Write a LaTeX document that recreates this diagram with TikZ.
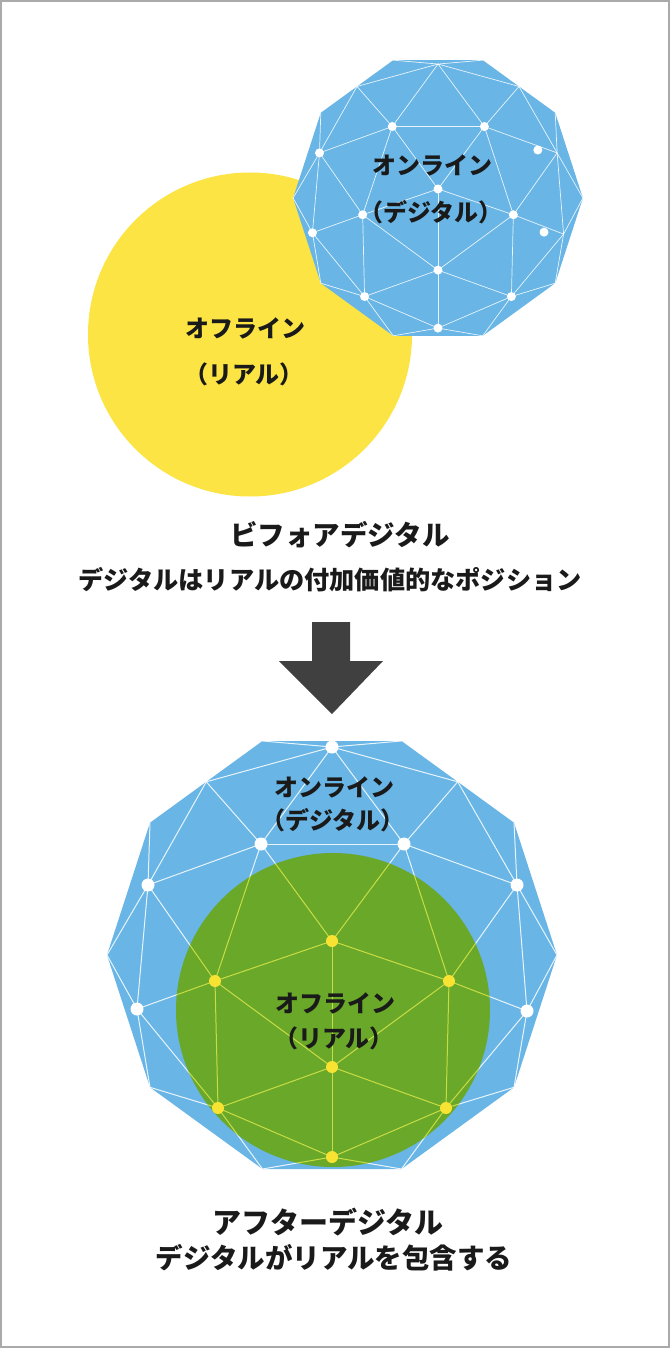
\documentclass[tikz,border=0pt]{standalone}
\usepackage{fontspec}
\newfontfamily\jp{Noto Sans CJK JP}
\definecolor{skyb}{HTML}{68B5E6}
\definecolor{leaf}{HTML}{6AA82A}
\definecolor{sun}{HTML}{FBE444}
\definecolor{dotyel}{HTML}{F8E332}
\definecolor{meshyel}{HTML}{C8DC44}
\definecolor{arrowgray}{HTML}{404040}
\definecolor{framegray}{HTML}{AAAAAA}
\definecolor{ink}{HTML}{1A1A1A}

\newcommand{\meshcoords}[1]{%
  \coordinate (#1P0) at (225,0);
  \coordinate (#1P36) at (182,-132.3);
  \coordinate (#1P72) at (69.5,-214);
  \coordinate (#1P108) at (-69.5,-214);
  \coordinate (#1P144) at (-182,-132.3);
  \coordinate (#1P180) at (-225,0);
  \coordinate (#1P216) at (-182,132.3);
  \coordinate (#1P252) at (-69.5,214);
  \coordinate (#1P288) at (69.5,214);
  \coordinate (#1P324) at (182,132.3);
  \coordinate (#1W0) at (0,-208);
  \coordinate (#1E1) at (-125.75,-173.2);
  \coordinate (#1E2) at (125.75,-173.2);
  \coordinate (#1W1) at (-71,-111);
  \coordinate (#1W3) at (72,-111);
  \coordinate (#1W2) at (-184,-70);
  \coordinate (#1W5) at (185,-70);
  \coordinate (#1W4) at (-195,54);
  \coordinate (#1W6) at (195,56);
  \coordinate (#1YT) at (0,-14);
  \coordinate (#1YUL) at (-117,26);
  \coordinate (#1YUR) at (117,26);
  \coordinate (#1YC) at (0,112);
  \coordinate (#1YLL) at (-114,153);
  \coordinate (#1YLR) at (114,153);
  \coordinate (#1YB) at (0,202);
}
\newcommand{\meshlines}[2]{%
  \foreach \u/\v in {W0/P108, W0/P72, W0/E1, W0/E2, W0/W1, W0/W3,
      E1/W1, E1/W2, E2/W3, E2/W5, P144/W2, P36/W5,
      W2/W1, W5/W3, W2/P180, W5/P0, W2/YUL, W5/YUR, W2/W4, W5/W6,
      W1/YUL, W3/YUR, W1/YT, W3/YT, W1/W3,
      W4/P180, W6/P0, W4/YUL, W6/YUR, W4/P216, W6/P324, W4/YLL, W6/YLR,
      P216/YLL, P324/YLR, YLL/P252, YLR/P288, YLL/YB, YLR/YB, YLL/YC, YLR/YC,
      YLL/YUL, YLR/YUR, YUL/YT, YUR/YT, YUL/YC, YUR/YC, YT/YC, YC/YB,
      YB/P252, YB/P288}
    {\draw[#2] (#1\u) -- (#1\v);}
}
\newcommand{\decagon}[1]{(#1P0) -- (#1P36) -- (#1P72) -- (#1P108) -- (#1P144) -- (#1P180) -- (#1P216) -- (#1P252) -- (#1P288) -- (#1P324) -- cycle}

\begin{document}
\begin{tikzpicture}[x=1pt,y=-1pt,
  lbl/.style={font=\jp\bfseries\fontsize{24}{24}\selectfont, text=ink, inner sep=0pt},
  capbig/.style={font=\jp\bfseries\fontsize{27.5}{28}\selectfont, text=ink, inner sep=0pt},
  capsmall/.style={font=\jp\bfseries\fontsize{25.2}{26}\selectfont, text=ink, inner sep=0pt},
  whiteline/.style={white, opacity=0.85, line width=0.7pt},
  whitelineb/.style={white, opacity=0.85, line width=1pt},
  yelline/.style={meshyel, line width=1pt},
  wdot/.style={fill=white},
  ydot/.style={fill=dotyel}]
\useasboundingbox (0,0) rectangle (670,1348);
\fill[white] (0,0) rectangle (670,1348);
\draw[framegray, line width=2pt] (1,1) rectangle (669,1347);

% ---------- top: before digital ----------
\coordinate (suncenter) at (250,334.5);
\fill[sun] (suncenter) circle[radius=162];
\begin{scope}[shift={(438,198)}, scale=0.644]
  \meshcoords{a}
  \fill[skyb] \decagon{a};
  \meshlines{a}{whiteline}
  \foreach \p in {aW1,aW3,aW2,aW4,aYT,aYUL,aYUR,aYC,aYLL,aYLR,aYB}
    \fill[wdot] (\p) circle[radius=7];
  \coordinate (aD5) at (155,-74.5);
  \coordinate (aD6) at (164.6,53);
  \fill[wdot] (aD5) circle[radius=7];
  \fill[wdot] (aD6) circle[radius=7];
\end{scope}
\node[lbl] (on1) at (432,165) {オンライン};
\node[lbl] (dg1) at (431,212) {（デジタル）};
\node[lbl] (off1) at (245,328) {オフライン};
\node[lbl] (rl1) at (244,374) {（リアル）};

\node[capbig] (cap1) at (340,535) {ビフォアデジタル};
\node[capsmall] (cap2) at (330,580) {デジタルはリアルの付加価値的なポジション};

% ---------- arrow ----------
\fill[arrowgray] (312,622) -- (350,622) -- (350,661) -- (383,661) -- (332,714) -- (279,661) -- (312,661) -- cycle;

% ---------- bottom: after digital ----------
\begin{scope}[shift={(332,955)}]
  \meshcoords{b}
  \fill[skyb] \decagon{b};
  \meshlines{b}{whitelineb}
  \foreach \p in {bW0,bW1,bW3,bW2,bW5,bW4,bW6}
    \fill[wdot] (\p) circle[radius=6.5];
  \coordinate (gc) at (1,55);
  \fill[leaf] (gc) circle[radius=157];
  \begin{scope}
    \clip (gc) circle[radius=157];
    \meshlines{b}{yelline}
  \end{scope}
  \foreach \p in {bYT,bYUL,bYUR,bYC,bYLL,bYLR,bYB}
    \fill[ydot] (\p) circle[radius=6];
\end{scope}
\node[lbl] (on2) at (334,787) {オンライン};
\node[lbl] (dg2) at (333,820) {（デジタル）};
\node[lbl] (off2) at (335,1003) {オフライン};
\node[lbl] (rl2) at (334,1038) {（リアル）};

\node[capbig, font=\jp\bfseries\fontsize{29}{29}\selectfont] (cap3) at (328,1222) {アフターデジタル};
\node[capsmall, font=\jp\bfseries\fontsize{27.5}{28}\selectfont] (cap4) at (334,1258) {デジタルがリアルを包含する};
\end{tikzpicture}
\end{document}
